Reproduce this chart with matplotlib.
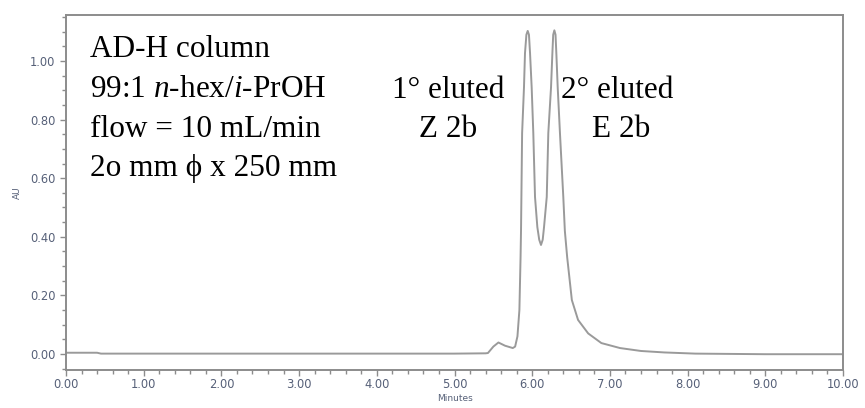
import matplotlib.pyplot as plt
from matplotlib.ticker import MultipleLocator, FormatStrFormatter

# chromatogram trace (minutes, AU)
minutes = [0.00, 0.40, 0.45, 2.00, 4.00, 5.00, 5.40, 5.43, 5.50, 5.565, 5.65, 5.75,
           5.78, 5.81, 5.835, 5.85, 5.856, 5.87, 5.894, 5.907, 5.925, 5.942, 5.958,
           5.972, 5.993, 6.014, 6.036, 6.066, 6.09, 6.113, 6.135, 6.152, 6.187,
           6.207, 6.242, 6.26, 6.27, 6.285, 6.30, 6.31, 6.328, 6.357, 6.40, 6.42,
           6.45, 6.51, 6.59, 6.72, 6.89, 7.13, 7.40, 7.70, 8.10, 9.00, 10.00]
absorb = [0.004, 0.004, 0.001, 0.001, 0.001, 0.001, 0.002, 0.003, 0.025, 0.039, 0.028, 0.020,
          0.025, 0.060, 0.150, 0.330, 0.423, 0.754, 0.910, 1.027, 1.090, 1.103, 1.090,
          1.027, 0.910, 0.754, 0.536, 0.433, 0.390, 0.372, 0.390, 0.433, 0.536,
          0.754, 0.910, 1.030, 1.090, 1.105, 1.090, 1.030, 0.910, 0.754, 0.536, 0.420,
          0.330, 0.184, 0.116, 0.070, 0.037, 0.020, 0.010, 0.005, 0.001, -0.001, -0.001]

info_lines = ["AD-H column",
              r"99:1 $\it{n}$-hex/$\it{i}$-PrOH",
              "flow = 10 mL/min",
              "2o mm \u03d5 x 250 mm"]
peak1_label = ["1\u00b0 eluted", "Z 2b"]
peak2_label = ["2\u00b0 eluted", "E 2b"]

plt.rcParams['mathtext.fontset'] = 'custom'
plt.rcParams['mathtext.it'] = 'Liberation Serif:italic'
plt.rcParams['mathtext.rm'] = 'Liberation Serif'

fig = plt.figure(figsize=(8.65, 4.08), dpi=100)
ax = fig.add_axes([0.0763, 0.0931, 0.8983, 0.8699])

ax.plot(minutes, absorb, color='#9a9a9a', lw=1.4)

ax.set_xlim(0, 10)
ax.set_ylim(-0.055, 1.157)
ax.xaxis.set_major_locator(MultipleLocator(1))
ax.xaxis.set_minor_locator(MultipleLocator(0.2))
ax.yaxis.set_major_locator(MultipleLocator(0.2))
ax.yaxis.set_minor_locator(MultipleLocator(0.05))
ax.xaxis.set_major_formatter(FormatStrFormatter('%.2f'))
ax.yaxis.set_major_formatter(FormatStrFormatter('%.2f'))

tick_col = '#566078'
for s in ax.spines.values():
    s.set_color('#8c8c8c')
    s.set_linewidth(1.4)
ax.tick_params(which='both', colors='#8c8c8c', labelcolor=tick_col, labelsize=8.3)
ax.tick_params(which='major', length=4, width=1)
ax.tick_params(which='minor', length=3, width=1)
ax.tick_params(axis='x', which='major', pad=2)
ax.set_xlabel("Minutes", fontsize=6.5, color=tick_col, labelpad=2)
ax.set_ylabel("AU", fontsize=6.5, color=tick_col, labelpad=6)

serif = dict(family='Liberation Serif', fontsize=22.5, color='black')
for i, line in enumerate(info_lines):
    ax.text(0.31, 1.038 - i * 0.135, line, va='center', ha='left', **serif)

ax.text(4.92, 0.900, peak1_label[0], va='center', ha='center', **serif)
ax.text(4.92, 0.767, peak1_label[1], va='center', ha='center', **serif)
ax.text(6.37, 0.900, peak2_label[0], va='center', ha='left', **serif)
ax.text(7.15, 0.767, peak2_label[1], va='center', ha='center', **serif)

fig.savefig("out.png", dpi=100)
